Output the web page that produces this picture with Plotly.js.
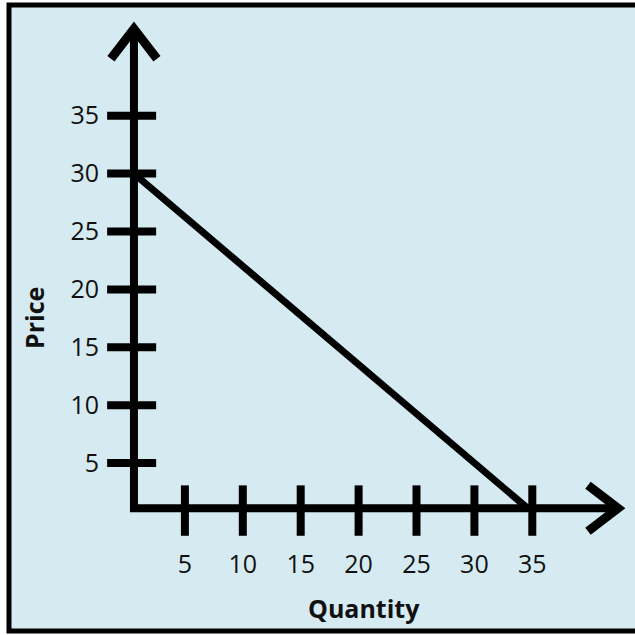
<!DOCTYPE html>
<html>
<head>
<meta charset="utf-8">
<script src="https://cdn.plot.ly/plotly-3.0.1.min.js"></script>
<style>
  html, body { margin: 0; padding: 0; background: #ffffff; }
  #chart { width: 635px; height: 635px; }
</style>
</head>
<body>
<div id="chart"></div>
<script>
// ---- data ----
var quantityTicks = [5, 10, 15, 20, 25, 30, 35];
var priceTicks = [5, 10, 15, 20, 25, 30, 35];
var demandQuantity = [0.6, 34.6];
var demandPrice = [30, 1.1];
var axisOriginQuantity = 0.6;
var axisOriginPrice = 1.1;
var axisEndQuantity = 42.4;
var axisEndPrice = 42.5;
var xTitle = 'Quantity';
var yTitle = 'Price';

// ---- styles ----
var bg = '#d5ebf1';
var ink = '#000000';
var tickFont = {family: 'Open Sans, sans-serif', size: 25, color: '#111111'};
var titleFont = {family: 'Open Sans, sans-serif', size: 25, color: '#111111', weight: 700};

var traces = [
  // axes (L shape)
  {
    type: 'scatter', mode: 'lines',
    x: [axisOriginQuantity, axisOriginQuantity, axisEndQuantity],
    y: [axisEndPrice, axisOriginPrice, axisOriginPrice],
    line: {color: ink, width: 8},
    hoverinfo: 'skip', showlegend: false
  },
  // x tick marks crossing the axis
  {
    type: 'scatter', mode: 'markers',
    x: quantityTicks,
    y: quantityTicks.map(function () { return axisOriginPrice - 0.2; }),
    marker: {symbol: 'line-ns', size: 36, line: {color: ink, width: 8}},
    hoverinfo: 'skip', showlegend: false
  },
  // y tick marks crossing the axis
  {
    type: 'scatter', mode: 'markers',
    x: priceTicks.map(function () { return axisOriginQuantity - 0.2; }),
    y: priceTicks,
    marker: {symbol: 'line-ew', size: 35, line: {color: ink, width: 8}},
    hoverinfo: 'skip', showlegend: false
  },
  // demand line
  {
    type: 'scatter', mode: 'lines',
    x: demandQuantity,
    y: demandPrice,
    line: {color: ink, width: 7},
    hoverinfo: 'skip', showlegend: false
  }
];

var pxPerUnit = 11.58;
var W = 635, H = 635;
var originPxX = 127, originPxY = 521;
function px2paperX(px) { return px / W; }
function px2paperY(py) { return 1 - py / H; }

var layout = {
  width: W, height: H,
  margin: {l: 0, r: 0, t: 0, b: 0, pad: 0},
  paper_bgcolor: '#ffffff',
  plot_bgcolor: 'rgba(0,0,0,0)',
  showlegend: false,
  xaxis: {
    range: [-originPxX / pxPerUnit, (W - originPxX) / pxPerUnit],
    anchor: 'free', position: px2paperY(originPxY),
    tickvals: quantityTicks,
    ticktext: quantityTicks.map(String),
    showgrid: false, zeroline: false, showline: false,
    ticks: '', ticklabelstandoff: 26,
    tickfont: tickFont, fixedrange: true
  },
  yaxis: {
    range: [-(H - originPxY) / pxPerUnit, originPxY / pxPerUnit],
    anchor: 'free', position: px2paperX(originPxX),
    tickvals: priceTicks,
    ticktext: priceTicks.map(String),
    showgrid: false, zeroline: false, showline: false,
    ticks: '', ticklabelstandoff: 28,
    tickfont: tickFont, fixedrange: true
  },
  shapes: [
    {
      type: 'rect', xref: 'paper', yref: 'paper', layer: 'below',
      x0: px2paperX(9), x1: px2paperX(645), y0: px2paperY(631), y1: px2paperY(5),
      line: {color: ink, width: 5}, fillcolor: bg
    },
    {
      type: 'path', xref: 'x', yref: 'y', xsizemode: 'pixel', ysizemode: 'pixel',
      xanchor: axisEndQuantity, yanchor: axisOriginPrice,
      path: 'M -30,-23 L 0,0 L -30,23',
      line: {color: ink, width: 9}
    },
    {
      type: 'path', xref: 'x', yref: 'y', xsizemode: 'pixel', ysizemode: 'pixel',
      xanchor: axisOriginQuantity, yanchor: axisEndPrice,
      path: 'M -23,-30 L 0,0 L 23,-30',
      line: {color: ink, width: 9}
    }
  ],
  annotations: [
    {
      text: xTitle, xref: 'paper', yref: 'paper',
      x: px2paperX(364), y: px2paperY(608),
      xanchor: 'center', yanchor: 'middle', showarrow: false,
      font: titleFont
    },
    {
      text: yTitle, xref: 'paper', yref: 'paper',
      x: px2paperX(34), y: px2paperY(318),
      xanchor: 'center', yanchor: 'middle', showarrow: false,
      textangle: -90, font: titleFont
    }
  ]
};

Plotly.newPlot('chart', traces, layout, {displayModeBar: false, staticPlot: true});
</script>
</body>
</html>
